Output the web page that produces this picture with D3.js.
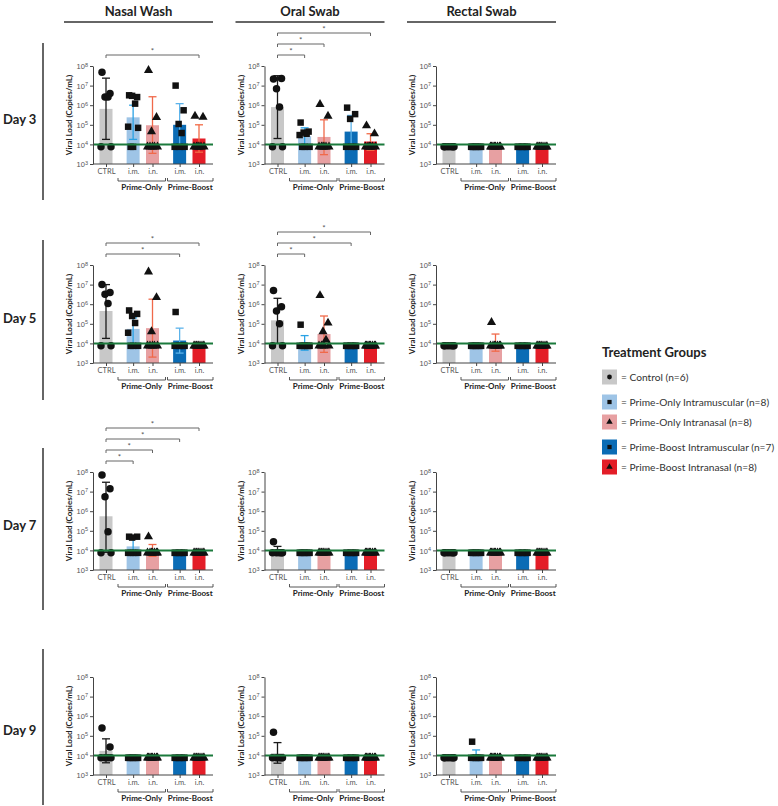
<!DOCTYPE html>
<html><head><meta charset="utf-8">
<script src="https://cdn.jsdelivr.net/npm/d3@7"></script>
<style>body{margin:0;background:#fff;} svg{display:block;font-family:Lato,"Open Sans",sans-serif;}</style>
</head><body><svg id="c" width="778" height="806"></svg>
<script>
// ---------- data ----------
const sites = ["Nasal Wash", "Oral Swab", "Rectal Swab"];
const days = ["Day 3", "Day 5", "Day 7", "Day 9"];
const groupLabels = ["CTRL", "i.m.", "i.n.", "i.m.", "i.n."];
const legendLabels = ["= Control (n=6)", "= Prime-Only Intramuscular (n=8)", "= Prime-Only Intranasal (n=8)",
  "= Prime-Boost Intramuscular (n=7)", "= Prime-Boost Intranasal (n=8)"];
const tickExps = [3, 4, 5, 6, 7, 8];
const LOD = 1e4;
const B = 7.5e3; // below-detection value as plotted

// [day][group]
const nasalMean = [[6.5e5, 2.4e5, 9.5e4, 1.0e5, 2.0e4], [4.5e5, 5.5e4, 6.0e4, 1.4e4, B], [5.5e5, 1.6e4, B, B, B], [1.7e4, B, B, B, B]];
const nasalHi = [[2.4e7, 1.0e6, 2.7e6, 1.2e6, 1.0e5], [1.0e7, 2.0e5, 1.8e6, 6.0e4, null], [3.0e7, 4.0e4, 2.0e4, null, null], [7.0e4, null, null, null, null]];
const nasalLo = [[1.8e4, 1.8e4, 3.5e3, 7.0e3, 4.0e3], [1.8e4, 8.0e3, 2.0e3, 3.2e3, null], [8.0e3, 8.0e3, 5.0e3, null, null], [4.2e3, null, null, null, null]];
const nasalPts = [
  [[4.8e7, 4.0e6, 2.6e6, 2.6e6, B, B], [3.2e6, 2.6e6, 3.0e6, 1.2e6, 8.0e4, 7.0e4, B, B], [6.0e7, 2.4e5, 4.5e4, B, B, B, B, B], [1.0e7, 5.5e5, 1.1e5, 3.8e4, B, B, B], [2.8e5, 2.5e5, B, B, B, B, B, B]],
  [[1.0e7, 4.0e6, 3.2e6, 1.1e6, B, B], [4.8e5, 3.2e5, 2.5e5, 1.1e5, 3.5e4, B, B, B], [4.5e7, 2.2e6, 4.0e4, B, B, B, B, B], [4.0e5, B, B, B, B, B, B], [B, B, B, B, B, B, B, B]],
  [[7.0e7, 1.4e7, 5.5e6, 9.0e4, B, B], [5.0e4, 5.0e4, 4.5e4, B, B, B, B, B], [5.0e4, B, B, B, B, B, B, B], [B, B, B, B, B, B, B], [B, B, B, B, B, B, B, B]],
  [[2.5e5, 2.7e4, B, B, B, B], [B, B, B, B, B, B, B, B], [B, B, B, B, B, B, B, B], [B, B, B, B, B, B, B], [B, B, B, B, B, B, B, B]]
];
const nasalSig = [[4], [3, 4], [1, 2, 3, 4], []];

const oralMean = [[8.0e5, 2.6e4, 2.4e4, 4.5e4, 1.4e4], [1.5e5, B, 3.0e4, B, B], [B, B, B, B, B], [1.3e4, B, B, B, B]];
const oralHi = [[3.2e7, 7.0e4, 1.8e5, 3.0e5, 3.5e4], [2.0e6, 2.5e4, 2.5e5, null, null], [1.6e4, null, null, null, null], [4.5e4, null, null, null, null]];
const oralLo = [[2.0e4, 8.0e3, 3.0e3, 5.5e3, 5.0e3], [1.0e4, 4.5e3, 3.5e3, null, null], [7.0e3, null, null, null, null], [4.0e3, null, null, null, null]];
const oralPts = [
  [[2.2e7, 2.3e7, 7.0e6, 8.0e5, B, B], [1.3e5, 4.5e4, 4.0e4, 3.5e4, 3.0e4, B, B, B], [1.1e6, 2.8e5, B, B, B, B, B, B], [7.5e5, 3.5e5, 2.0e5, B, B, B, B], [9.0e4, 3.5e4, B, B, B, B, B, B]],
  [[5.0e6, 7.5e5, 4.5e5, 1.0e5, B, B], [9.0e4, B, B, B, B, B, B, B], [2.8e6, 1.1e5, 4.0e4, 1.5e4, B, B, B, B], [B, B, B, B, B, B, B], [B, B, B, B, B, B, B, B]],
  [[2.8e4, B, B, B, B, B], [B, B, B, B, B, B, B, B], [B, B, B, B, B, B, B, B], [B, B, B, B, B, B, B], [B, B, B, B, B, B, B, B]],
  [[1.5e5, B, B, B, B, B], [B, B, B, B, B, B, B, B], [B, B, B, B, B, B, B, B], [B, B, B, B, B, B, B], [B, B, B, B, B, B, B, B]]
];
const oralSig = [[1, 2, 4], [1, 3, 4], [], []];

const rectalMean = [[B, B, B, B, B], [B, B, B, B, B], [B, B, B, B, B], [B, 8.5e3, B, B, B]];
const rectalHi = [[null, null, null, null, null], [null, null, 3.0e4, null, null], [null, null, null, null, null], [null, 1.9e4, null, null, null]];
const rectalLo = [[null, null, null, null, null], [null, null, 4.0e3, null, null], [null, null, null, null, null], [null, 5.5e3, null, null, null]];
const rectalPts = [
  [[B, B, B, B, B, B], [B, B, B, B, B, B, B, B], [B, B, B, B, B, B, B, B], [B, B, B, B, B, B, B], [B, B, B, B, B, B, B, B]],
  [[B, B, B, B, B, B], [B, B, B, B, B, B, B, B], [1.2e5, B, B, B, B, B, B, B], [B, B, B, B, B, B, B], [B, B, B, B, B, B, B, B]],
  [[B, B, B, B, B, B], [B, B, B, B, B, B, B, B], [B, B, B, B, B, B, B, B], [B, B, B, B, B, B, B], [B, B, B, B, B, B, B, B]],
  [[B, B, B, B, B, B], [5.0e4, B, B, B, B, B, B, B], [B, B, B, B, B, B, B, B], [B, B, B, B, B, B, B], [B, B, B, B, B, B, B, B]]
];
const rectalSig = [[], [], [], []];

// ---------- styling / layout ----------
const barColors = ["#c8c8c8", "#9ec4e6", "#e7a0a2", "#0b6cb5", "#e31d27"];
const errColors = ["#1a1a1a", "#2ba2e4", "#f0694a", "#5cb3ea", "#f26a45"];
const symbols = [d3.symbolCircle, d3.symbolSquare, d3.symbolTriangle, d3.symbolSquare, d3.symbolTriangle];
const symSize = [44, 42, 36, 42, 36];
const colX = [93, 264.5, 436];
const rowTop = [66, 265, 472, 677];
const dayLine = [[43, 200], [240, 400], [448, 610], [649, 805]];
const plotH = 98, plotW = 120, barW = 13;
const slotUnits = [0, 1.4, 2.4, 3.8, 4.8];
const jitter = [-4, 4, -1, 2, -5, 5, 0, -2.5];

const siteData = [
  {mean: nasalMean, hi: nasalHi, lo: nasalLo, pts: nasalPts, sig: nasalSig},
  {mean: oralMean, hi: oralHi, lo: oralLo, pts: oralPts, sig: oralSig},
  {mean: rectalMean, hi: rectalHi, lo: rectalLo, pts: rectalPts, sig: rectalSig}
];

const svg = d3.select("#c");
const y = d3.scaleLog().domain([1e3, 1e8]).range([plotH, 0]);
const xu = d3.scaleLinear().domain([0, 4.8]).range([13, 106]);
const x = d3.scaleOrdinal().domain(d3.range(5)).range(slotUnits.map(xu));

// column headers
sites.forEach((s, i) => {
  const cx = colX[i] - 29 + 74.5;
  svg.append("text").attr("x", cx).attr("y", 16).attr("text-anchor", "middle")
    .attr("font-size", 13).attr("font-weight", 700).attr("fill", "#222").text(s);
  svg.append("line").attr("x1", colX[i] - 29).attr("x2", colX[i] + 120).attr("y1", 22).attr("y2", 22)
    .attr("stroke", "#333").attr("stroke-width", 1.5);
});

// day labels
days.forEach((d, j) => {
  svg.append("text").attr("x", 3).attr("y", rowTop[j] + 58).attr("font-size", 13).attr("font-weight", 700)
    .attr("fill", "#222").text(d);
  svg.append("line").attr("x1", 43).attr("x2", 43).attr("y1", dayLine[j][0]).attr("y2", dayLine[j][1])
    .attr("stroke", "#333").attr("stroke-width", 1.5);
});

siteData.forEach((sd, s) => {
  days.forEach((dname, d) => {
    const g = svg.append("g").attr("transform", `translate(${colX[s]},${rowTop[d]})`);
    // bars
    g.selectAll("rect.bar").data(sd.mean[d]).join("rect").attr("class", "bar")
      .attr("x", (v, k) => x(k) - barW / 2).attr("width", barW)
      .attr("y", v => y(v)).attr("height", v => plotH - y(v))
      .attr("fill", (v, k) => barColors[k]);
    // error bars
    sd.hi[d].forEach((hv, k) => {
      if (hv == null) return;
      const lv = sd.lo[d][k];
      const eg = g.append("g").attr("stroke", errColors[k]).attr("stroke-width", 1.3);
      eg.append("line").attr("x1", x(k)).attr("x2", x(k)).attr("y1", y(lv)).attr("y2", y(hv));
      [hv, lv].forEach(v => eg.append("line").attr("x1", x(k) - 4).attr("x2", x(k) + 4).attr("y1", y(v)).attr("y2", y(v)));
    });
    // points
    sd.pts[d].forEach((arr, k) => {
      g.selectAll(null).data(arr).join("path")
        .attr("d", d3.symbol().type(symbols[k]).size(symSize[k]))
        .attr("transform", (v, i) => `translate(${x(k) + jitter[i % jitter.length]},${y(v)})`)
        .attr("fill", "#111");
    });
    // LOD line
    g.append("line").attr("x1", 0).attr("x2", plotW).attr("y1", y(LOD)).attr("y2", y(LOD))
      .attr("stroke", "#1b7a3c").attr("stroke-width", 2);
    // y axis
    const ya = g.append("g").call(d3.axisLeft(y).tickValues(tickExps.map(e => Math.pow(10, e))).tickSize(3).tickSizeOuter(0).tickFormat(""));
    ya.select(".domain").attr("stroke", "#444");
    ya.selectAll(".tick line").attr("stroke", "#444");
    ya.selectAll(".tick").append("text").attr("x", -5).attr("dy", "0.35em").attr("text-anchor", "end")
      .attr("fill", "#555").attr("font-size", 7.5)
      .each(function(v) {
        const t = d3.select(this);
        t.append("tspan").text("10");
        t.append("tspan").attr("dy", "-0.45em").attr("font-size", 5.5).text(Math.round(Math.log10(v)));
      });
    // x axis
    g.append("line").attr("x1", 0).attr("x2", plotW).attr("y1", plotH).attr("y2", plotH).attr("stroke", "#444");
    const xa = g.append("g").attr("transform", `translate(0,${plotH})`)
      .call(d3.axisBottom(x).tickSize(3).tickSizeOuter(0).tickFormat((k) => groupLabels[k]));
    xa.select(".domain").remove();
    xa.selectAll(".tick line").attr("stroke", "#444");
    xa.selectAll(".tick text").attr("font-size", 7.5).attr("y", 5).attr("font-family", "Lato, sans-serif")
      .attr("fill", "#555").style("fill", "#555");
    // group brackets
    [[25, 72.5, "Prime-Only"], [74.5, 120, "Prime-Boost"]].forEach(([a, b, lab]) => {
      g.append("path").attr("d", `M${a},${plotH + 14}V${plotH + 17}H${b}V${plotH + 14}`)
        .attr("fill", "none").attr("stroke", "#444").attr("stroke-width", 0.9);
      g.append("text").attr("x", (a + b) / 2).attr("y", plotH + 26).attr("text-anchor", "middle")
        .attr("font-size", 8).attr("font-weight", 700).attr("fill", "#222").text(lab);
    });
    // significance brackets
    sd.sig[d].forEach((k, i) => {
      const by = -11 - i * 11;
      g.append("path").attr("d", `M${x(0)},${by + 3}V${by}H${x(k)}V${by + 3}`)
        .attr("fill", "none").attr("stroke", "#666").attr("stroke-width", 1);
      g.append("text").attr("x", (x(0) + x(k)) / 2).attr("y", by - 1).attr("text-anchor", "middle")
        .attr("font-size", 8).attr("fill", "#555").text("*");
    });
    // y label
    g.append("text").attr("transform", `translate(-21,${plotH / 2}) rotate(-90)`).attr("text-anchor", "middle")
      .attr("font-size", 8).attr("font-weight", 700).attr("fill", "#222").text("Viral Load (Copies/mL)");
  });
});

// legend
const lg = svg.append("g");
lg.append("text").attr("x", 602).attr("y", 357).attr("font-size", 13).attr("font-weight", 700).attr("fill", "#222").text("Treatment Groups");
const legY = [377, 402, 422, 447, 467];
legendLabels.forEach((lab, k) => {
  lg.append("rect").attr("x", 602).attr("y", legY[k] - 7.5).attr("width", 15).attr("height", 15).attr("fill", barColors[k]);
  lg.append("path").attr("d", d3.symbol().type(symbols[k]).size(18)).attr("transform", `translate(609.5,${legY[k]})`).attr("fill", "#111");
  lg.append("text").attr("x", 621).attr("y", legY[k]).attr("dy", "0.35em").attr("font-size", 10.2).attr("fill", "#333").text(lab);
});
</script>
</body></html>
